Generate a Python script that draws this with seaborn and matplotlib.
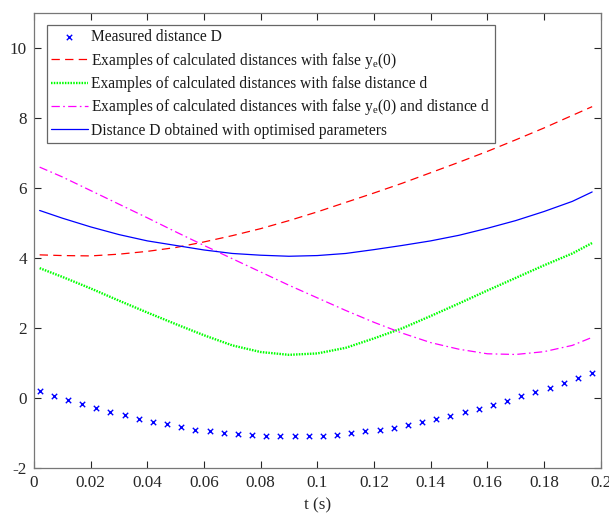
import numpy as np
import seaborn as sns
import matplotlib
import matplotlib.pyplot as plt
from matplotlib.ticker import FuncFormatter

sns.set_style('ticks')
plt.rcParams['font.family'] = ['Liberation Serif', 'DejaVu Serif']
plt.rcParams['mathtext.default'] = 'regular'
plt.rcParams['axes.unicode_minus'] = False
plt.rcParams['lines.scale_dashes'] = False

# measured distance D (crosses)
t_meas = [0.002, 0.007, 0.012, 0.017, 0.022, 0.027, 0.032, 0.037, 0.042, 0.047,
          0.052, 0.057, 0.062, 0.067, 0.072, 0.077, 0.082, 0.087, 0.092, 0.097,
          0.102, 0.107, 0.112, 0.117, 0.122, 0.127, 0.132, 0.137, 0.142, 0.147,
          0.152, 0.157, 0.162, 0.167, 0.172, 0.177, 0.182, 0.187, 0.192, 0.197]
d_meas = [0.19, 0.06, -0.07, -0.18, -0.29, -0.41, -0.50, -0.60, -0.69, -0.76,
          -0.83, -0.91, -0.96, -1.00, -1.04, -1.07, -1.08, -1.10, -1.10, -1.09,
          -1.08, -1.05, -1.01, -0.96, -0.91, -0.85, -0.77, -0.70, -0.61, -0.52,
          -0.42, -0.32, -0.20, -0.08, 0.04, 0.16, 0.29, 0.43, 0.57, 0.71]

# calculated curves
t_calc = [0.002, 0.01, 0.02, 0.03, 0.04, 0.05, 0.06, 0.07, 0.08, 0.09, 0.10,
          0.11, 0.12, 0.13, 0.14, 0.15, 0.16, 0.17, 0.18, 0.19, 0.197]
d_false_ye = [4.09, 4.07, 4.06, 4.11, 4.19, 4.30, 4.46, 4.64, 4.84, 5.07, 5.32,
              5.59, 5.86, 6.14, 6.44, 6.74, 7.05, 7.38, 7.72, 8.08, 8.33]
d_false_d = [3.71, 3.46, 3.13, 2.78, 2.44, 2.11, 1.79, 1.50, 1.31, 1.23, 1.27,
             1.43, 1.70, 1.99, 2.34, 2.70, 3.07, 3.43, 3.79, 4.13, 4.43]
d_false_both = [6.60, 6.32, 5.93, 5.54, 5.15, 4.75, 4.36, 3.98, 3.60, 3.22, 2.86,
                2.50, 2.16, 1.85, 1.58, 1.39, 1.26, 1.24, 1.32, 1.50, 1.73]
d_optim = [5.36, 5.14, 4.89, 4.67, 4.49, 4.36, 4.23, 4.13, 4.08, 4.05, 4.07,
           4.13, 4.24, 4.36, 4.49, 4.65, 4.85, 5.07, 5.33, 5.62, 5.89]

labels = ['Measured distance D',
          'Examples of calculated distances with false $y_e$(0)',
          'Examples of calculated distances with false distance d',
          'Examples of calculated distances with false $y_e$(0) and distance d',
          'Distance D obtained with optimised parameters']

fig = plt.figure(figsize=(6.09, 5.15), dpi=100)
ax = fig.add_axes([0.0558, 0.0918, 0.9305, 0.8823])

sns.scatterplot(x=t_meas, y=d_meas, marker='x', s=15, color='#0000ff',
                linewidth=1.0, label=labels[0], ax=ax, zorder=3)
sns.lineplot(x=t_calc, y=d_false_ye, color='#ff0000', linewidth=0.9,
             linestyle=(0, (6, 3.8)), label=labels[1], ax=ax)
sns.lineplot(x=t_calc, y=d_false_d, color='#00ff00', linewidth=1.7,
             linestyle=(0, (1.1, 0.9)), label=labels[2], ax=ax)
sns.lineplot(x=t_calc, y=d_false_both, color='#ff00ff', linewidth=0.9,
             linestyle=(0, (6, 2.4, 1.2, 2.4)), label=labels[3], ax=ax)
sns.lineplot(x=t_calc, y=d_optim, color='#0000ff', linewidth=0.9,
             label=labels[4], ax=ax)

ax.set_xlim(0, 0.2)
ax.set_ylim(-2, 11)
ax.set_xticks(np.arange(0, 0.201, 0.02))
ax.set_yticks([-2, 0, 2, 4, 6, 8, 10])
ax.xaxis.set_major_formatter(FuncFormatter(lambda v, p: '%g' % round(v, 3)))
ax.yaxis.set_major_formatter(FuncFormatter(lambda v, p: '%g' % v))
ax.tick_params(direction='in', top=True, right=True, length=4.8, width=0.8,
               colors='#262626', labelsize=12.3, pad=5)
for s in ax.spines.values():
    s.set_visible(True)
    s.set_color('#777777')
    s.set_linewidth(0.9)
ax.set_xlabel('t (s)', fontsize=12.3, color='#262626', labelpad=5)
ax.set_ylabel('')

handles, labs = ax.get_legend_handles_labels()
leg = ax.legend(handles, labs, loc='upper left', bbox_to_anchor=(0.0224, 0.9742),
                borderaxespad=0, fontsize=11.2, frameon=True, fancybox=False,
                framealpha=1, edgecolor='#666666', handlelength=2.35,
                handletextpad=0.22, borderpad=0.28, labelspacing=0.34)
leg.get_frame().set_linewidth(0.9)
for txt in leg.get_texts():
    txt.set_color('#1a1a1a')

fig.savefig('out.png', dpi=100)
